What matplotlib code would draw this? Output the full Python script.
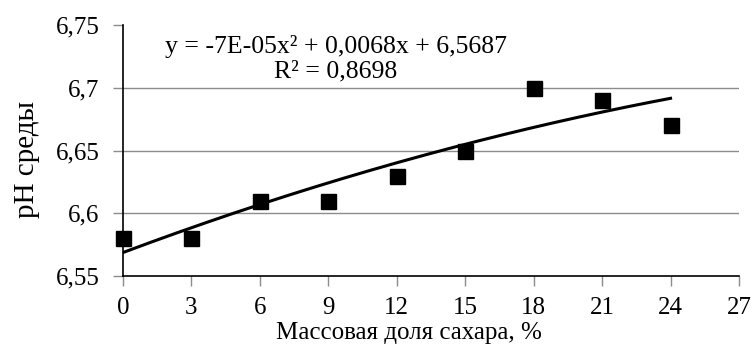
import numpy as np
import matplotlib
matplotlib.use("Agg")
import matplotlib.pyplot as plt
from matplotlib.ticker import FuncFormatter

# Sugar mass fraction (%) and measured pH of the medium
sugar = [0, 3, 6, 9, 12, 15, 18, 21, 24]
ph = [6.58, 6.58, 6.61, 6.61, 6.63, 6.65, 6.70, 6.69, 6.67]

# Polynomial trend coefficients (a*x^2 + b*x + c) and fit quality
coef = [-7e-05, 0.0068, 6.5687]
r2 = 0.8698

x_ticks = [0, 3, 6, 9, 12, 15, 18, 21, 24, 27]
y_ticks = [6.55, 6.60, 6.65, 6.70, 6.75]

plt.rcParams['font.family'] = ['Liberation Serif', 'DejaVu Serif']

W, H = 754, 347
fig = plt.figure(figsize=(W / 100, H / 100), dpi=100)
ax = fig.add_axes([123 / W, 1 - 276 / H, (739 - 123) / W, (276 - 25) / H])

# horizontal gridlines (none on the top value)
for yv in y_ticks[1:-1]:
    ax.axhline(yv, color='#8c8c8c', lw=1.0, zorder=1)

xs = np.linspace(sugar[0], sugar[-1], 200)
ax.plot(xs, np.polyval(coef, xs), color='black', lw=2.2, zorder=2)
ax.plot(sugar, ph, ls='none', marker='s', ms=10.8, color='black', zorder=3, clip_on=False)

ax.set_xlim(0, 27)
ax.set_ylim(6.55, 6.75)
ax.set_xticks(x_ticks)
ax.set_yticks(y_ticks)


def comma(v, pos):
    s = f"{v:.2f}".rstrip('0').rstrip('.')
    return s.replace('.', ',')


ax.yaxis.set_major_formatter(FuncFormatter(comma))
ax.xaxis.set_major_formatter(FuncFormatter(lambda v, p: f"{int(round(v))}"))

for s in ['top', 'right']:
    ax.spines[s].set_visible(False)
for s in ['left', 'bottom']:
    ax.spines[s].set_color('black')
    ax.spines[s].set_linewidth(1.2)

ax.tick_params(axis='both', direction='out', length=7, width=1, color='#8c8c8c',
               labelsize=18, labelcolor='black')
ax.tick_params(axis='x', pad=8)
ax.tick_params(axis='y', pad=10)

fig.text(409 / W, 1 - 333 / H, 'Массовая доля сахара, %', fontsize=18,
         ha='center', va='center')
fig.text(27 / W, 1 - 159 / H, 'pH среды', fontsize=21, rotation=90,
         ha='center', va='center')

eq = f"y = -7E-05x² + 0,0068x + 6,5687\nR² = {str(r2).replace('.', ',')}"
fig.text(336 / W, 1 - 59 / H, eq, ha='center', va='center',
         fontsize=18.5, linespacing=1.12, multialignment='center')

fig.savefig('out.png', dpi=100)
